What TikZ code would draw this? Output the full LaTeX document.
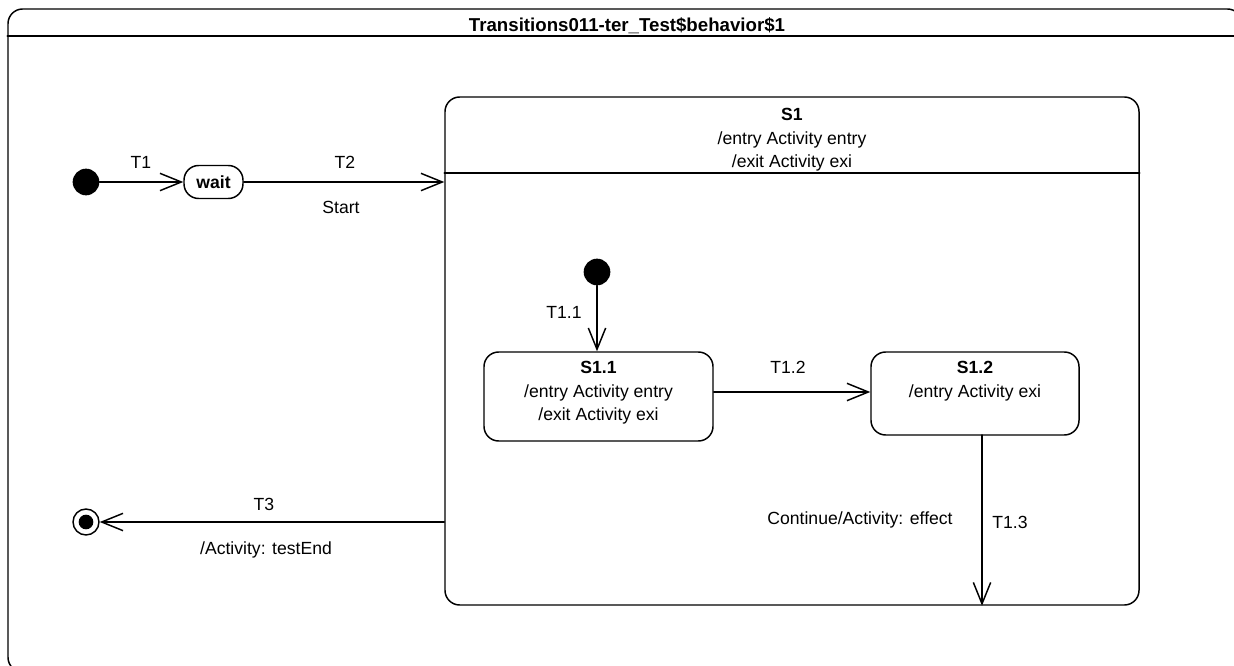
\documentclass[tikz,border=0pt]{standalone}
\usepackage{fontspec}
\setmainfont{Liberation Sans}
\usetikzlibrary{arrows.meta}

\begin{document}
\begin{tikzpicture}[x=0.75pt,y=-0.75pt,font=\fontsize{13.2pt}{17.6pt}\selectfont,line cap=round,line join=round,
    state/.style={draw,line width=1.1pt,rounded corners=11pt,inner sep=0pt},
    trans/.style={line width=1.1pt,-{Straight Barb[length=16pt,width=13pt,line width=1.1pt]}},
    pseudo/.style={circle,fill,inner sep=0pt,minimum size=20pt},
    lbl/.style={inner sep=1pt}]
  \useasboundingbox (0,0) rectangle (1234,666);

  % outer frame of the state machine (right and bottom edges fall off the page)
  \node[state,minimum width=925.5pt,minimum height=497.25pt] (frame) at (625,340.5) {};
  \draw[line width=1.1pt] (frame.west |- 0,36) -- (frame.east |- 0,36);
  \node[font=\fontsize{14pt}{17.6pt}\selectfont\bfseries] (title) at (627,26) {Transitions011-ter\_Test\$behavior\$1};

  % top level
  \node[pseudo] (init) at (86,182) {};
  \node[state,rounded corners=11pt,minimum width=44.25pt,minimum height=24.75pt,font=\fontsize{13.2pt}{17.6pt}\selectfont\bfseries]
    (wait) at (213.5,182) {wait};
  \node[state,minimum width=520.5pt,minimum height=381pt] (s1) at (792,351) {};
  \draw[line width=1.1pt] (s1.west |- 0,173) -- (s1.east |- 0,173);
  \node[anchor=north,align=center,inner sep=0pt] (s1txt) at ([yshift=-9pt]s1.north)
    {\textbf{S1}\\/entry Activity entry\\/exit Activity exi};

  \node[circle,draw,line width=1.1pt,inner sep=0pt,minimum size=19.5pt] (fin) at (86,522) {};
  \node[pseudo,minimum size=11pt] (findot) at (fin) {};

  \draw[trans] (init) -- (wait);
  \node[lbl] (t1) at (141,162) {T1};
  \draw[trans] (wait) -- (wait -| s1.west);
  \node[lbl] (t2) at (345,162) {T2};
  \node[lbl] (start) at (341,207) {Start};
  \draw[trans] (fin -| s1.west) -- (fin);
  \node[lbl] (t3) at (264,504) {T3};
  \node[lbl] (t3eff) at (266,550) {/Activity: testEnd};

  % inside S1
  \node[pseudo] (init2) at (597,272) {};
  \node[state,minimum width=171.75pt,minimum height=66.75pt] (s11) at (598.5,396.5) {};
  \node[anchor=north,align=center,inner sep=0pt] (s11txt) at ([yshift=-7.5pt]s11.north)
    {\textbf{S1.1}\\/entry Activity entry\\/exit Activity exi};
  \node[state,minimum width=156pt,minimum height=62.25pt] (s12) at (975,393.5) {};
  \node[anchor=north,align=center,inner sep=0pt] (s12txt) at ([yshift=-7.5pt]s12.north)
    {\textbf{S1.2}\\/entry Activity exi};

  \draw[trans] (init2) -- (init2 |- s11.north);
  \node[lbl] (t11) at (564,312) {T1.1};
  \draw[trans] (s11.east |- 0,392) -- (s12.west |- 0,392);
  \node[lbl] (t12) at (788,367) {T1.2};
  \coordinate (t13top) at (982,435);
  \draw[trans] (t13top) -- (t13top |- s1.south);
  \node[lbl] (t13) at (1010,522) {T1.3};
  \node[lbl] (t13eff) at (860,520) {Continue/Activity: effect};
\end{tikzpicture}
\end{document}
